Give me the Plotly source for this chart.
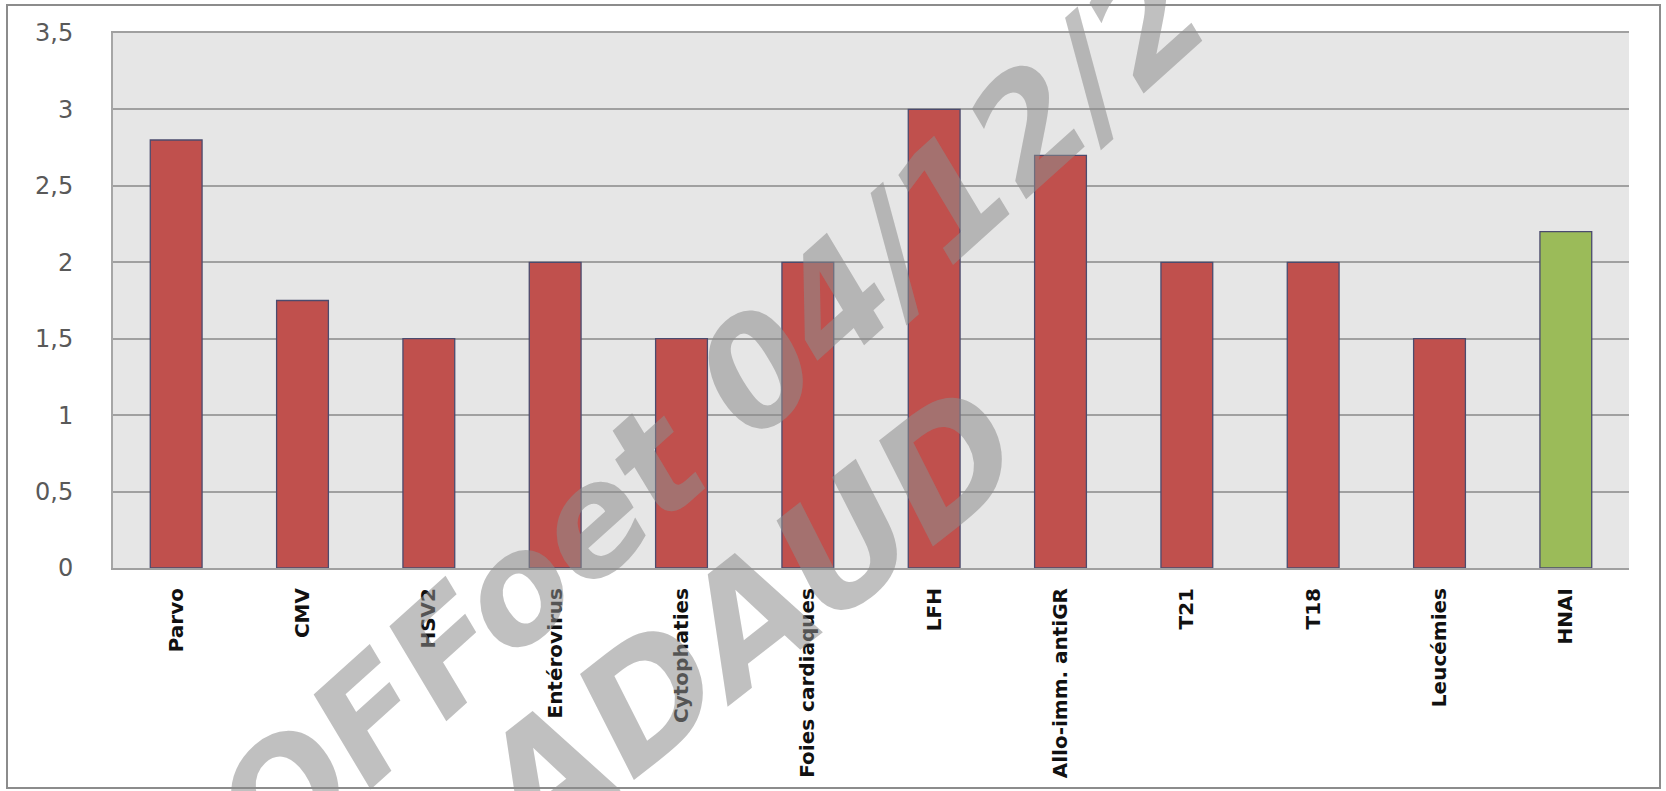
import plotly.graph_objects as go

categories = ["Parvo", "CMV", "HSV2", "Entérovirus", "Cytophaties", "Foies cardiaques",
              "LFH", "Allo-imm. antiGR", "T21", "T18", "Leucémies", "HNAI"]
values = [2.8, 1.75, 1.5, 2.0, 1.5, 2.0, 3.0, 2.7, 2.0, 2.0, 1.5, 2.2]
bar_colors = ["#C0504D"] * 11 + ["#9BBB59"]
y_ticks = [0, 0.5, 1, 1.5, 2, 2.5, 3, 3.5]
watermarks = ["OFFoet 04/12/2", "ADAUD"]

W, H = 1666, 791
L, R, T, B = 113, 37, 33, 223
pw, ph = W - L - R, H - T - B

def px(x):
    return (x - L) / pw

def py(y):
    return (H - B - y) / ph

fig = go.Figure()
fig.add_trace(go.Bar(
    x=categories, y=values,
    marker=dict(color=bar_colors, line=dict(color="#4B4B6E", width=1.3)),
))

fig.update_layout(
    width=W, height=H,
    margin=dict(l=L, r=R, t=T, b=B),
    paper_bgcolor="white",
    plot_bgcolor="#E6E6E6",
    separators=", ",
    bargap=0.59,
    showlegend=False,
    xaxis=dict(
        tickangle=-90,
        tickfont=dict(family="DejaVu Sans", size=20, color="#111111", weight="bold"),
        showline=True, linecolor="#A0A0A0", linewidth=2, mirror=True,
        showgrid=False, ticks="", ticklabelstandoff=10,
    ),
    yaxis=dict(
        range=[0, 3.5], tickvals=y_ticks,
        tickfont=dict(family="DejaVu Sans", size=24, color="#595959"),
        showgrid=True, gridcolor="#A0A0A0", gridwidth=2,
        showline=True, linecolor="#A6A6A6", linewidth=2,
        zeroline=False, ticks="", ticklabelstandoff=33,
    ),
)

# outer frame
fig.add_shape(type="rect", xref="paper", yref="paper",
              x0=px(7), x1=px(1660), y0=py(788), y1=py(5),
              line=dict(color="#8C8C8C", width=2), fillcolor="rgba(0,0,0,0)", layer="below")

# watermark texts
wm_font = dict(family="DejaVu Sans", size=149, color="rgba(140,140,140,0.55)",
               weight="bold", style="italic")
fig.add_annotation(text=watermarks[0], xref="paper", yref="paper",
                   x=px(712), y=py(412), xanchor="center", yanchor="middle",
                   showarrow=False, textangle=-42, font=wm_font)
fig.add_annotation(text=watermarks[1], xref="paper", yref="paper",
                   x=px(745), y=py(622), xanchor="center", yanchor="middle",
                   showarrow=False, textangle=-38, font=dict(wm_font, size=160))

fig.write_html("out.html")
